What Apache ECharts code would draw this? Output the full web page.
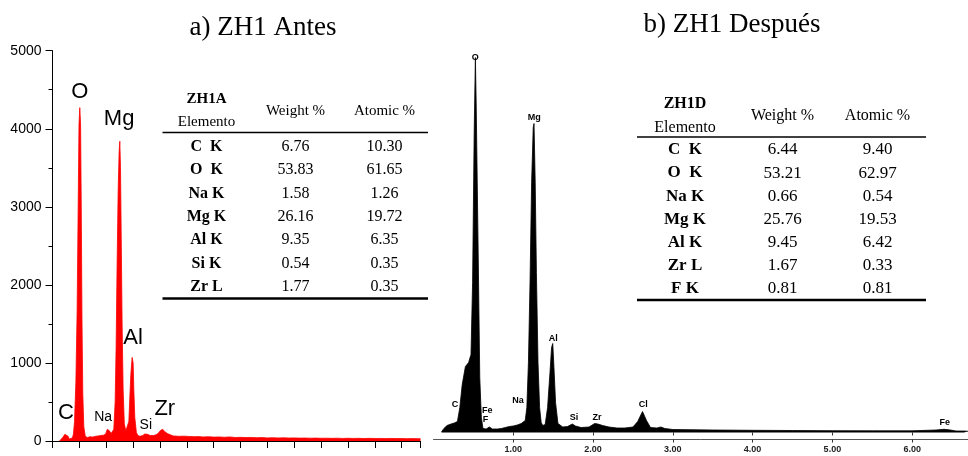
<!DOCTYPE html>
<html>
<head>
<meta charset="utf-8">
<title>EDS ZH1</title>
<script src="https://cdn.jsdelivr.net/npm/echarts@6/dist/echarts.min.js"></script>
<style>
  html, body { margin: 0; padding: 0; background: #fff; }
  #chart { width: 968px; height: 456px; }
</style>
</head>
<body>
<div id="chart"></div>
<script>
// ---- Spectrum a) ZH1 Antes : energy (keV) and counts ----
const leftEnergy = [0.13, 0.15, 0.19, 0.23, 0.26, 0.29, 0.31, 0.34, 0.37, 0.39, 0.41, 0.435, 0.458, 0.477, 0.493, 0.508, 0.523, 0.536, 0.549, 0.564, 0.583, 0.61, 0.65, 0.70, 0.75, 0.80, 0.85, 0.90, 0.95, 0.99, 1.02, 1.04, 1.06, 1.09, 1.12, 1.141, 1.166, 1.184, 1.203, 1.222, 1.240, 1.253, 1.266, 1.281, 1.296, 1.315, 1.337, 1.365, 1.393, 1.421, 1.439, 1.458, 1.482, 1.501, 1.514, 1.532, 1.561, 1.59, 1.63, 1.68, 1.72, 1.74, 1.77, 1.82, 1.88, 1.93, 1.97, 2.01, 2.05, 2.09, 2.14, 2.19, 2.25, 2.35, 2.45, 2.55, 2.65, 2.72, 2.80, 2.90, 3.00, 3.10, 3.20, 3.30, 3.40, 3.50, 3.60, 3.70, 3.80, 3.90, 4.00, 4.10, 4.20, 4.30, 4.40, 4.50, 4.60, 4.70, 4.80, 4.90, 5.00, 5.10, 5.20, 5.30, 5.40, 5.50, 5.60, 5.70, 5.80, 5.90, 6.00, 6.10, 6.20, 6.30, 6.40, 6.50, 6.60, 6.70, 6.80, 6.85];
const leftCounts = [0, 20, 45, 85, 100, 60, 25, 20, 40, 90, 250, 750, 1650, 2950, 4050, 4270, 4050, 2950, 1550, 600, 180, 60, 45, 55, 50, 60, 65, 70, 75, 90, 150, 170, 130, 95, 110, 150, 500, 1200, 2300, 3200, 3700, 3840, 3500, 2500, 1500, 650, 220, 130, 120, 250, 550, 850, 1070, 1000, 650, 300, 110, 70, 60, 70, 90, 100, 85, 70, 70, 80, 100, 135, 150, 120, 95, 80, 65, 60, 62, 58, 55, 57, 52, 55, 50, 52, 48, 52, 45, 47, 44, 46, 42, 44, 40, 42, 39, 41, 38, 40, 37, 38, 36, 37, 35, 36, 34, 36, 33, 35, 33, 34, 32, 34, 32, 33, 31, 33, 31, 32, 30, 31, 30, 30];
const leftYTicks = [0, 1000, 2000, 3000, 4000, 5000];
// peak tags: symbol, energy, count where the tag sits
const leftBigTags = [['O', 0.508, 4470], ['Mg', 1.24, 4120], ['Al', 1.50, 1316], ['C', 0.248, 355], ['Zr', 2.09, 406]];
const leftSmallTags = [['Na', 0.942, 311], ['Si', 1.737, 205]];

// ---- Spectrum b) ZH1 Después : energy (keV) and intensity ----
const rightEnergy = [0.10, 0.13, 0.17, 0.22, 0.26, 0.30, 0.33, 0.36, 0.40, 0.44, 0.47, 0.49, 0.51, 0.525, 0.535, 0.545, 0.56, 0.58, 0.60, 0.62, 0.66, 0.70, 0.74, 0.80, 0.85, 0.90, 0.95, 1.00, 1.05, 1.10, 1.15, 1.17, 1.19, 1.21, 1.23, 1.25, 1.26, 1.275, 1.29, 1.31, 1.33, 1.35, 1.37, 1.40, 1.43, 1.46, 1.48, 1.495, 1.51, 1.53, 1.56, 1.62, 1.68, 1.74, 1.78, 1.85, 1.95, 2.02, 2.06, 2.12, 2.20, 2.30, 2.40, 2.50, 2.56, 2.62, 2.67, 2.72, 2.80, 2.85, 2.90, 3.00, 3.50, 4.00, 4.50, 5.00, 5.50, 6.00, 6.30, 6.40, 6.48, 6.55, 6.65, 6.70];
const rightCounts = [5, 40, 70, 85, 95, 110, 250, 480, 660, 700, 780, 1500, 3000, 3750, 3300, 3300, 1800, 550, 150, 40, 35, 55, 35, 35, 40, 50, 60, 65, 75, 90, 120, 250, 700, 1500, 2500, 3050, 3090, 2500, 1600, 700, 250, 100, 70, 80, 250, 600, 850, 890, 650, 300, 90, 55, 60, 85, 65, 50, 55, 90, 85, 70, 55, 45, 45, 55, 110, 210, 120, 50, 45, 55, 40, 30, 25, 22, 20, 18, 17, 17, 25, 32, 25, 15, 15, 12];
const rightTicks = [1, 2, 3, 4, 5, 6];
const rightTags = [['O', 0.524, 3745], ['Mg', 1.263, 3148], ['Al', 1.501, 940], ['C', 0.269, 275], ['Fe', 0.674, 218], ['F', 0.652, 125], ['Na', 1.059, 315], ['Si', 1.761, 145], ['Zr', 2.049, 145], ['Cl', 2.629, 275], ['Fe', 6.41, 95]];

// ---- Composition tables ----
const titleA = 'a) ZH1 Antes';
const headA = ['ZH1A', 'Elemento', 'Weight %', 'Atomic %'];
const elemA = ['C  K', 'O  K', 'Na K', 'Mg K', 'Al K', 'Si K', 'Zr L'];
const weightA = ['6.76', '53.83', '1.58', '26.16', '9.35', '0.54', '1.77'];
const atomicA = ['10.30', '61.65', '1.26', '19.72', '6.35', '0.35', '0.35'];

const titleB = 'b) ZH1 Después';
const headB = ['ZH1D', 'Elemento', 'Weight %', 'Atomic %'];
const elemB = ['C  K', 'O  K', 'Na K', 'Mg K', 'Al K', 'Zr L', 'F K'];
const weightB = ['6.44', '53.21', '0.66', '25.76', '9.45', '1.67', '0.81'];
const atomicB = ['9.40', '62.97', '0.54', '19.53', '6.42', '0.33', '0.81'];

const SERIF = '"Liberation Serif", "Times New Roman", serif';
const SANS = '"Liberation Sans", Arial, sans-serif';

function zip(xs, ys) { return xs.map((x, i) => [x, ys[i]]); }

function textEl(x, y, text, font, align) {
  return {
    type: 'text', x: x, y: y, silent: true,
    style: {
      text: text, font: font, fill: '#000',
      textAlign: align || 'center', textVerticalAlign: 'middle',
      align: align || 'center', verticalAlign: 'middle'
    }
  };
}
function ruleEl(x1, x2, y, w) {
  return { type: 'line', silent: true, shape: { x1: x1, y1: y, x2: x2, y2: y }, style: { stroke: '#000', lineWidth: w } };
}

// table layout: column centres, header rows, first data row and row pitch
function buildTable(L, head, elems, weights, atomics) {
  const out = [];
  out.push(textEl(L.c0, L.hTop, head[0], 'bold ' + L.hSize + 'px ' + SERIF));
  out.push(textEl(L.c0, L.hBot, head[1], L.hSize + 'px ' + SERIF));
  out.push(textEl(L.c1, L.hMid, head[2], L.hSize + 'px ' + SERIF));
  out.push(textEl(L.c2, L.hMid, head[3], L.hSize + 'px ' + SERIF));
  out.push(ruleEl(L.x1, L.x2, L.ruleTop, 1.6));
  elems.forEach((e, i) => {
    const y = L.row0 + i * L.pitch;
    out.push(textEl(L.c0, y, e, 'bold ' + L.size + 'px ' + SERIF));
    out.push(textEl(L.c1, y, weights[i], L.size + 'px ' + SERIF));
    out.push(textEl(L.c2, y, atomics[i], L.size + 'px ' + SERIF));
  });
  out.push(ruleEl(L.x1, L.x2, L.ruleBot, 2.4));
  return out;
}

const layoutA = { c0: 206.5, c1: 295.5, c2: 384.5, hTop: 99, hBot: 122, hMid: 111, hSize: 15, size: 16,
  x1: 162.5, x2: 428, ruleTop: 132.5, row0: 146.7, pitch: 23.35, ruleBot: 298.5 };
const layoutB = { c0: 685, c1: 782.5, c2: 877.5, hTop: 104, hBot: 127.5, hMid: 115.5, hSize: 16, size: 17,
  x1: 637, x2: 926, ruleTop: 137, row0: 150, pitch: 23.1, ruleBot: 300 };

const graphics = []
  .concat([textEl(263, 28, titleA, '27px ' + SERIF), textEl(732, 25, titleB, '27px ' + SERIF)])
  .concat(buildTable(layoutA, headA, elemA, weightA, atomicA))
  .concat(buildTable(layoutB, headB, elemB, weightB, atomicB));

function tagSeries(tags, xi, yi, font, size, weight) {
  return {
    type: 'scatter', xAxisIndex: xi, yAxisIndex: yi, silent: true, z: 5,
    symbolSize: 0, itemStyle: { color: '#000', opacity: 1 },
    data: tags.map(t => [t[1], t[2], t[0]]),
    label: {
      show: true, position: 'inside', formatter: p => p.data[2],
      fontFamily: font, fontSize: size, fontWeight: weight, color: '#000', opacity: 1
    }
  };
}

const chart = echarts.init(document.getElementById('chart'), null, { renderer: 'canvas' });
chart.setOption({
  animation: false,
  backgroundColor: '#fff',
  graphic: graphics,
  grid: [
    { left: 52.5, top: 50.7, width: 368, height: 390.3 },
    { left: 433.5, top: 32.5, width: 534.5, height: 400 }
  ],
  xAxis: [
    {
      type: 'value', gridIndex: 0, min: 0, max: 6.85, interval: 0.5,
      axisLine: { show: true, onZero: false, lineStyle: { color: '#000', width: 1 } },
      axisTick: { show: true, length: 7, lineStyle: { color: '#000' } },
      axisLabel: { show: false }, splitLine: { show: false }
    },
    {
      type: 'value', gridIndex: 1, min: 0, max: 6.7, offset: 7,
      axisLine: { show: true, onZero: false, lineStyle: { color: '#555', width: 1 } },
      axisTick: { show: true, length: 3, customValues: rightTicks, lineStyle: { color: '#333' } },
      axisLabel: {
        show: true, customValues: rightTicks, margin: 6,
        formatter: v => v.toFixed(2),
        fontFamily: SANS, fontWeight: 'bold', fontSize: 9, color: '#222'
      },
      splitLine: { show: false }
    },
    {
      type: 'value', gridIndex: 1, min: 0, max: 6.7, offset: 7,
      axisLine: { show: false },
      axisTick: { show: true, inside: true, length: 3, customValues: rightTicks, lineStyle: { color: '#333' } },
      axisLabel: { show: false }, splitLine: { show: false }
    }
  ],
  yAxis: [
    {
      type: 'value', gridIndex: 0, min: leftYTicks[0], max: leftYTicks[leftYTicks.length - 1],
      interval: leftYTicks[1] - leftYTicks[0],
      axisLine: { show: true, onZero: false, lineStyle: { color: '#000', width: 1 } },
      axisTick: { show: true, length: 7, lineStyle: { color: '#000' } },
      minorTick: { show: true, splitNumber: 2, length: 4, lineStyle: { color: '#000' } },
      axisLabel: { show: true, margin: 11, fontFamily: SANS, fontSize: 14, color: '#000', formatter: v => String(v) },
      splitLine: { show: false }
    },
    { type: 'value', gridIndex: 1, min: 0, max: 4000, show: false }
  ],
  series: [
    {
      type: 'line', xAxisIndex: 0, yAxisIndex: 0, data: zip(leftEnergy, leftCounts),
      showSymbol: false, silent: true,
      lineStyle: { color: '#ff0000', width: 0.8 },
      areaStyle: { color: '#ff0000', opacity: 1 }
    },
    {
      type: 'line', xAxisIndex: 1, yAxisIndex: 1, data: zip(rightEnergy, rightCounts),
      showSymbol: false, silent: true,
      lineStyle: { color: '#000', width: 0.8 },
      areaStyle: { color: '#000', opacity: 1 }
    },
    tagSeries(leftBigTags, 0, 0, SANS, 22, 'normal'),
    tagSeries(leftSmallTags, 0, 0, SANS, 14, 'normal'),
    tagSeries(rightTags, 1, 1, SANS, 9, 'bold')
  ]
});
</script>
</body>
</html>
